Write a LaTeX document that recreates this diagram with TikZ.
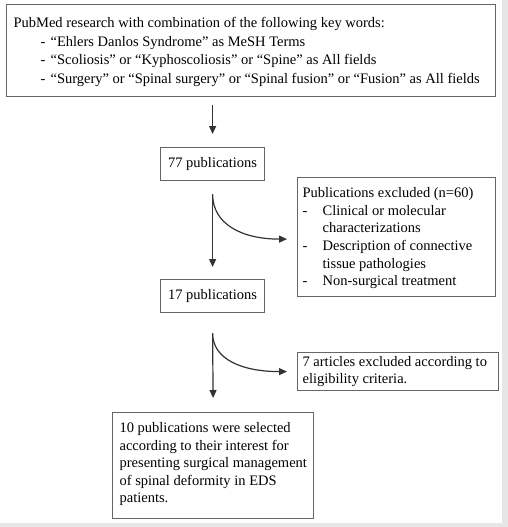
\documentclass[tikz,border=0pt]{standalone}
\usepackage{fontspec}
\setmainfont{Liberation Serif}
\usetikzlibrary{arrows.meta}
\definecolor{bggray}{HTML}{E6E6E6}
\definecolor{boxline}{HTML}{666666}
\definecolor{arrowcol}{HTML}{333333}
\newcommand{\fl}{\rule{0pt}{10.5pt}}
\begin{document}
\begin{tikzpicture}[x=1pt,y=-1pt,
  box/.style={draw=boxline, line width=1.2pt, inner sep=0pt, anchor=north west, fill=white,
              font=\fontsize{14.5}{17.5}\selectfont},
  arr/.style={draw=arrowcol, line width=1.2pt, -{Triangle[length=8pt,width=7pt]}}]
\fill[bggray] (0,0) rectangle (508,527);
\fill[white] (0,0) rectangle (502,523);
\useasboundingbox (0,0) rectangle (508,527);

\node[box] (search) at (6,4) {\begin{minipage}[t][92pt][t]{489pt}\fontsize{14.5}{18.5}\selectfont
\vspace*{12.5pt}\leftskip=7pt\parindent=0pt
\fl PubMed research with combination of the following key words:\\
\hspace*{27pt}\makebox[10pt][l]{-}“Ehlers Danlos Syndrome” as MeSH Terms\\
\hspace*{27pt}\makebox[10pt][l]{-}“Scoliosis” or “Kyphoscoliosis” or “Spine” as All fields\\
\hspace*{27pt}\makebox[10pt][l]{-}“Surgery” or “Spinal surgery” or “Spinal fusion” or “Fusion” as All fields
\end{minipage}};

\node[box, minimum width=104pt, minimum height=33pt] (n77) at (160,147) {77 publications};

\node[box] (excl1) at (297,177) {\begin{minipage}[t][119pt][t]{198pt}\fontsize{14.5}{17.6}\selectfont
\vspace*{9.5pt}\leftskip=5pt\parindent=0pt
\fl Publications excluded (n=60)\\
\makebox[20pt][l]{-}Clinical or molecular\\
\hspace*{20pt}characterizations\\
\makebox[20pt][l]{-}Description of connective\\
\hspace*{20pt}tissue pathologies\\
\makebox[20pt][l]{-}Non-surgical treatment
\end{minipage}};

\node[box, minimum width=104pt, minimum height=33pt] (n17) at (160,279) {17 publications};

\node[box] (excl2) at (297,352) {\begin{minipage}[t][38pt][t]{201pt}\fontsize{14.5}{17}\selectfont
\vspace*{3pt}\leftskip=5pt\parindent=0pt
\fl 7 articles excluded according to\\
eligibility criteria.
\end{minipage}};

\node[box] (final) at (112,412) {\begin{minipage}[t][106pt][t]{201pt}\fontsize{14.5}{17.5}\selectfont
\vspace*{9.5pt}\leftskip=7pt\parindent=0pt
\fl 10 publications were selected\\
according to their interest for\\
presenting surgical management\\
of spinal deformity in EDS\\
patients.
\end{minipage}};

\draw[arr, shorten <=8pt, shorten >=13pt] (search.south -| n77.north) -- (n77.north);

\coordinate (b1) at ([yshift=-13pt]n77.south);
\draw[arr] (b1) -- ([yshift=12pt]n17.north);
\draw[arr] (b1) .. controls +(0,30) and +(-45,0) .. ([xshift=-10pt,yshift=-2pt]excl1.west);

\coordinate (b2) at ([yshift=-20pt]n17.south);
\draw[arr] (b2) -- ([yshift=14pt]final.north);
\draw[arr] (b2) .. controls +(0,26) and +(-45,0) .. ([xshift=-10pt]excl2.west);
\end{tikzpicture}
\end{document}
